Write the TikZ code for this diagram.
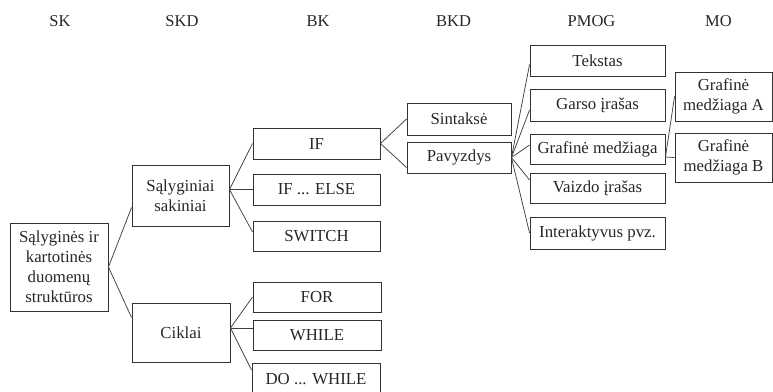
\documentclass[tikz,border=0pt]{standalone}
\usepackage{fontspec}
\setmainfont{Liberation Serif}
\begin{document}
\begin{tikzpicture}[x=1pt,y=-1pt,
  box/.style={draw=black!80, line width=0.9pt, inner sep=0pt, align=center, text=black!85,
    font=\fontsize{16.8}{20}\selectfont},
  hdr/.style={inner sep=0pt, text=black!85, font=\fontsize{16.5}{19}\selectfont},
  link/.style={draw=black!75, line width=0.75pt}]
\useasboundingbox (0,0) rectangle (773,391);
% headers
\node[hdr] (hsk) at (60,21) {SK};
\node[hdr] (hskd) at (182,21) {SKD};
\node[hdr] (hbk) at (318,21) {BK};
\node[hdr] (hbkd) at (453.5,21) {BKD};
\node[hdr] (hpmog) at (591.5,21) {PMOG};
\node[hdr] (hmo) at (718.5,21) {MO};
% boxes
\node[box, minimum width=98pt, minimum height=88pt] (root) at (59,267) {Sąlyginės ir\\kartotinės\\duomenų\\struktūros};
\node[box, minimum width=97pt, minimum height=61pt] (sal) at (180.5,195.5) {Sąlyginiai\\sakiniai};
\node[box, minimum width=98pt, minimum height=59pt] (cik) at (181,332.5) {Ciklai};
\node[box, minimum width=127pt, minimum height=31pt] (if) at (316.5,143.5) {IF};
\node[box, minimum width=127pt, minimum height=31pt] (ifelse) at (316.5,189.5) {IF ... ELSE};
\node[box, minimum width=127pt, minimum height=30pt] (switch) at (316.5,236) {SWITCH};
\node[box, minimum width=128pt, minimum height=30pt] (for) at (317,297) {FOR};
\node[box, minimum width=128pt, minimum height=30pt] (while) at (317,335) {WHILE};
\node[box, minimum width=128pt, minimum height=32pt] (dowhile) at (316,379) {DO ... WHILE};
\node[box, minimum width=104pt, minimum height=32pt] (sint) at (459,119) {Sintaksė};
\node[box, minimum width=104pt, minimum height=31pt] (pav) at (459,157.5) {Pavyzdys};
\node[box, minimum width=135pt, minimum height=31pt] (tek) at (597.5,60.5) {Tekstas};
\node[box, minimum width=135pt, minimum height=32pt] (garso) at (597.5,105) {Garso įrašas};
\node[box, minimum width=135pt, minimum height=30pt] (graf) at (597.5,149) {Grafinė medžiaga};
\node[box, minimum width=135pt, minimum height=30pt] (vaizdo) at (597.5,188) {Vaizdo įrašas};
\node[box, minimum width=135pt, minimum height=32pt] (inter) at (597.5,233) {Interaktyvus pvz.};
\node[box, minimum width=97pt, minimum height=49pt] (ga) at (723.5,96.5) {Grafinė\\medžiaga A};
\node[box, minimum width=97pt, minimum height=49pt] (gb) at (723.5,157.5) {Grafinė\\medžiaga B};
% connectors
\draw[link] (root.east) -- ([yshift=-12pt]sal.west);
\draw[link] (root.east) -- ([yshift=15pt]cik.west);
\draw[link] ([yshift=6pt]sal.east) -- (if.west);
\draw[link] ([yshift=6pt]sal.east) -- (ifelse.west);
\draw[link] ([yshift=6pt]sal.east) -- ([yshift=4pt]switch.west);
\draw[link] ([yshift=4.5pt]cik.east) -- (for.west);
\draw[link] ([yshift=4.5pt]cik.east) -- ([yshift=7pt]while.west);
\draw[link] ([yshift=4.5pt]cik.east) -- ([yshift=9pt]dowhile.west);
\draw[link] (if.east) -- (sint.west);
\draw[link] (if.east) -- ([yshift=-10pt]pav.west);
\draw[link] (pav.east) -- ([yshift=-4pt]tek.west);
\draw[link] (pav.east) -- ([yshift=-5pt]garso.west);
\draw[link] (pav.east) -- ([yshift=4pt]graf.west);
\draw[link] (pav.east) -- ([yshift=8pt]vaizdo.west);
\draw[link] (pav.east) -- (inter.west);
\draw[link] ([yshift=-8pt]graf.east) -- (ga.west);
\draw[link] ([yshift=-8pt]graf.east) -- (gb.west);
\end{tikzpicture}
\end{document}
